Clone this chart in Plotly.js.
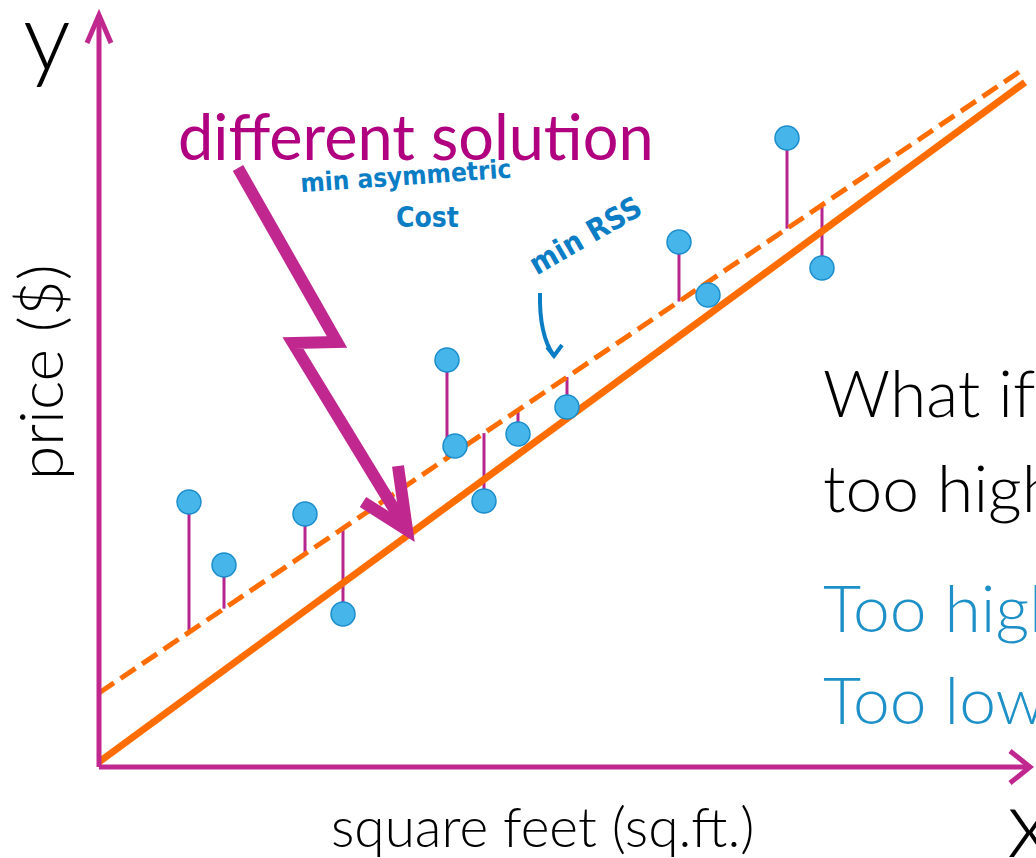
<!DOCTYPE html>
<html><head><meta charset="utf-8">
<script src="https://cdn.plot.ly/plotly-3.0.1.min.js"></script>
<style>html,body{margin:0;padding:0;background:#fff;}#chart{width:1036px;height:858px;}</style>
</head><body><div id="chart"></div>
<script>
// data (arbitrary units: square feet vs price)
const sqft  = [90, 125, 206, 244, 348, 356, 385, 419, 468, 580, 609, 688, 723];
const price = [265, 202, 253, 153, 407, 321, 266, 333, 360, 525, 472, 629, 499];
// fitted lines
const rssIntercept = 74,  rssSlope = 0.675;   // min RSS (dashed)
const asymIntercept = 5,  asymSlope = 0.734;  // min asymmetric cost (solid)
const lineX = [0, 926];

const magenta = '#C0288F', orange = '#FF6D00', dotBlue = '#45B5EA', penBlue = '#0B7DC5', txtBlue = '#1E90C8';
const font = 'Lato, "Open Sans", sans-serif';
const pen = '"DejaVu Sans Condensed", "DejaVu Sans", sans-serif';

// residual stems to min-RSS line
const stemX = [], stemY = [];
sqft.forEach((x, i) => {
  stemX.push(x, x, null);
  stemY.push(price[i], rssIntercept + rssSlope * x, null);
});

const traces = [
  {x: stemX, y: stemY, mode: 'lines', line: {color: '#B5258F', width: 3}, hoverinfo: 'skip'},
  {x: lineX, y: lineX.map(x => rssIntercept + rssSlope * x), mode: 'lines',
   line: {color: orange, width: 5, dash: '18px,8px'}},
  {x: lineX, y: lineX.map(x => asymIntercept + asymSlope * x), mode: 'lines',
   line: {color: orange, width: 7}},
  {x: sqft, y: price, mode: 'markers',
   marker: {color: dotBlue, size: 24, line: {color: '#1C8DCB', width: 1.5}}}
];

const shapes = [
  // axes with arrows
  {type: 'path', path: 'M 0,0 L 0,752', line: {color: magenta, width: 5}},
  {type: 'path', path: 'M -12,724 L 0,752 L 12,724', line: {color: magenta, width: 5}},
  {type: 'path', path: 'M 0,0 L 931,0', line: {color: magenta, width: 5}},
  {type: 'path', path: 'M 911,16 L 931,0 L 911,-16', line: {color: magenta, width: 5}},
  // lightning arrow
  {type: 'path', path: 'M 139,599 L 238,425 L 194,424 L 308,237', line: {color: magenta, width: 12}},
  {type: 'path', path: 'M 299,301 L 308,237 L 264,265', line: {color: magenta, width: 12}},
  // hand-drawn arrow for min RSS
  {type: 'path', path: 'M 441,474 Q 440,432 455,411', line: {color: penBlue, width: 4}},
  {type: 'path', path: 'M 448,420 L 455,411 L 463,422', line: {color: penBlue, width: 4}}
];

function ann(text, x, y, size, color, extra, fam, weight) {
  return Object.assign({text: text, x: x, y: y, xref: 'x', yref: 'y', showarrow: false,
    font: {family: fam || font, size: size, color: color, weight: weight || 300}}, extra || {});
}

const annotations = [
  ann('y', -52, 734, 95, '#000'),
  ann('x', 906, -53, 95, '#000', {xanchor: 'left'}),
  ann('price ($)', -60, 395, 62, '#000', {textangle: -90}),
  ann('square feet (sq.ft.)', 443, -59, 55, '#000'),
  ann('different solution', 317, 632, 63, '#B0007F', null, font, 400),
  ann('min asymmetric', 306, 591, 26, penBlue, {textangle: -4}, pen, 700),
  ann('Cost', 328, 550, 28, penBlue, null, pen, 700),
  ann('min RSS', 486, 532, 30, penBlue, {textangle: -30}, pen, 700),
  ann('What if cost is', 722, 376, 66, '#000', {xanchor: 'left'}),
  ann('too high', 722, 281, 66, '#000', {xanchor: 'left'}),
  ann('Too high', 722, 161, 66, txtBlue, {xanchor: 'left'}),
  ann('Too low', 722, 69, 66, txtBlue, {xanchor: 'left'})
];

const layout = {
  width: 1036, height: 858, margin: {l: 0, r: 0, t: 0, b: 0},
  paper_bgcolor: '#fff', plot_bgcolor: '#fff', showlegend: false,
  xaxis: {range: [-99, 937], visible: false, fixedrange: true},
  yaxis: {range: [-91, 767], visible: false, fixedrange: true},
  shapes: shapes, annotations: annotations
};
Plotly.newPlot('chart', traces, layout, {staticPlot: true});
</script></body></html>
